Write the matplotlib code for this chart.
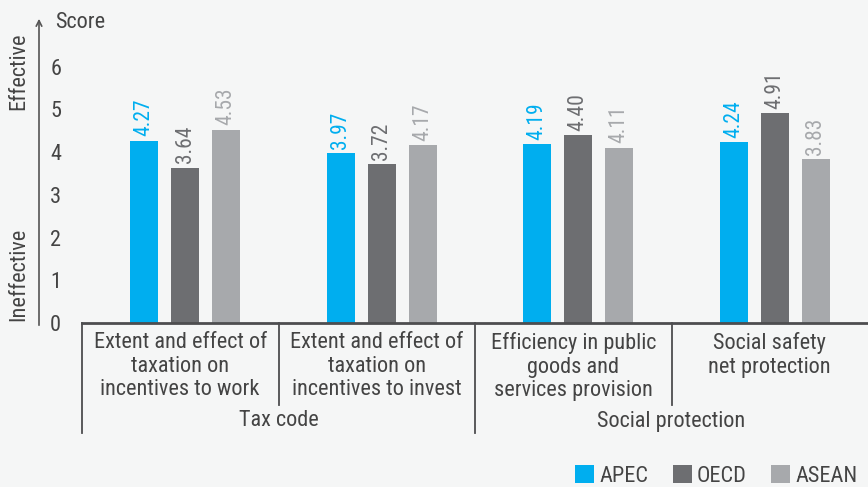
import matplotlib.pyplot as plt
from matplotlib.patches import Patch
from matplotlib import font_manager
import numpy as np

names = {f.name for f in font_manager.fontManager.ttflist}
fams = [n for n in ['Roboto Condensed', 'Liberation Sans Narrow', 'DejaVu Sans'] if n in names]
plt.rcParams['font.family'] = fams
plt.rcParams['font.stretch'] = 'condensed'

# data
categories = ['Extent and effect of\ntaxation on\nincentives to work',
              'Extent and effect of\ntaxation on\nincentives to invest',
              'Efficiency in public\ngoods and\nservices provision',
              'Social safety\nnet protection']
groups = ['Tax code', 'Social protection']
series = ['APEC', 'OECD', 'ASEAN']
apec = [4.27, 3.97, 4.19, 4.24]
oecd = [3.64, 3.72, 4.40, 4.91]
asean = [4.53, 4.17, 4.11, 3.83]
colors = ['#00aeef', '#6d6e71', '#a7a9ac']

bg = '#f5f6f6'
txt = '#444444'
fs = 16

W, H = 868, 487
fig = plt.figure(figsize=(W / 100, H / 100), dpi=100, facecolor=bg)

# axes placement in pixels
base_px = 323      # y of zero line
unit_px = 42.7     # pixels per score unit
ymax = 7.2
ax_h = ymax * unit_px
ax = fig.add_axes([82 / W, (H - base_px) / H, 1 - 82 / W, ax_h / H])
ax.set_facecolor(bg)
ax.set_xlim(-0.5, 3.5)
ax.set_ylim(0, ymax)

def ay(py):
    # figure pixel y (from top) -> axes fraction
    return (base_px - py) / ax_h

x = np.arange(len(categories)) + 0.025
bw = 0.143
off = 0.209
for k, (vals, c) in enumerate(zip([apec, oecd, asean], colors)):
    xs = x + (k - 1) * off
    ax.bar(xs, vals, width=bw, color=c, zorder=2)
    for xi, v in zip(xs, vals):
        ax.text(xi, v + 0.1, f'{v:.2f}', rotation=90, ha='center', va='bottom',
                color=c, fontsize=15.5)

for s in ax.spines.values():
    s.set_visible(False)
ax.set_xticks([])
ax.set_yticks(range(7))
ax.set_yticklabels([str(i) for i in range(7)], fontsize=fs, color=txt)
ax.tick_params(axis='y', length=0, pad=15)

tr = ax.get_xaxis_transform()
line_c = '#4d4d4f'
# baseline
ax.plot([-0.5, 3.5], [0, 0], color=line_c, lw=2, transform=tr, clip_on=False, zorder=3)
# category separators
for xb, yb in [(-0.5, 433), (0.5, 405), (1.5, 433), (2.5, 405)]:
    ax.plot([xb, xb], [0, ay(yb)], color=line_c, lw=1.3, transform=tr, clip_on=False)

for i, lab in enumerate(categories):
    ax.text(i, ay(332), lab, transform=tr, ha='center', va='top', fontsize=fs,
            color=txt, linespacing=1.17)
for j, g in enumerate(groups):
    ax.text(0.5 + 2 * j, ay(421), g, transform=tr, ha='center', va='center',
            fontsize=fs, color=txt)

# left arrow and labels
ax_left = fig.add_axes([0, 0, 1, 1], facecolor='none')
ax_left.set_xlim(0, W)
ax_left.set_ylim(H, 0)
ax_left.axis('off')
ax_left.annotate('', xy=(39, 16), xytext=(39, 328),
                 arrowprops=dict(arrowstyle='->', color='#555555', lw=1.2))
ax_left.text(19, 71, 'Effective', rotation=90, ha='center', va='center',
             fontsize=fs, color=txt)
ax_left.text(19, 274, 'Ineffective', rotation=90, ha='center', va='center',
             fontsize=fs, color=txt)
ax_left.text(55, 22, 'Score', ha='left', va='center', fontsize=fs, color=txt)

handles = [Patch(facecolor=c, edgecolor='none') for c in colors]
fig.legend(handles, series, loc='center right', bbox_to_anchor=(1.0, 1 - 476 / H),
           ncol=3, frameon=False, fontsize=fs, handlelength=0.85, handleheight=0.85,
           handletextpad=0.25, columnspacing=1.1, labelcolor=txt, borderaxespad=0.05)

fig.savefig('out.png', dpi=100, facecolor=bg)
